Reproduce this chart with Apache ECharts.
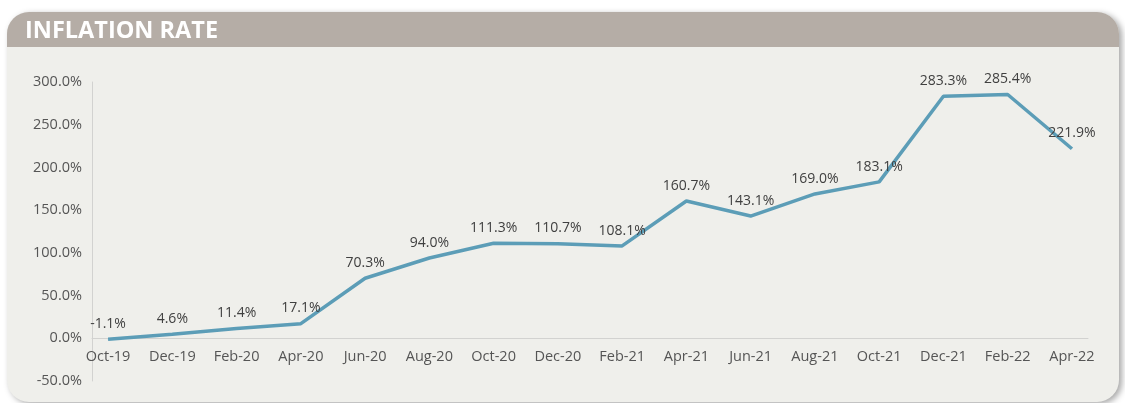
<!DOCTYPE html>
<html>
<head>
<meta charset="utf-8">
<script src="https://cdn.jsdelivr.net/npm/echarts@6/dist/echarts.min.js"></script>
<style>
html,body{margin:0;padding:0;background:#fff;}
#c{width:1125px;height:403px;}
</style>
</head>
<body>
<div id="c"></div>
<script>
const title = 'INFLATION RATE';
const categories = ['Oct-19','Dec-19','Feb-20','Apr-20','Jun-20','Aug-20','Oct-20','Dec-20','Feb-21','Apr-21','Jun-21','Aug-21','Oct-21','Dec-21','Feb-22','Apr-22'];
const inflation = [-1.1, 4.6, 11.4, 17.1, 70.3, 94.0, 111.3, 110.7, 108.1, 160.7, 143.1, 169.0, 183.1, 283.3, 285.4, 221.9];
const yTicks = [-50, 0, 50, 100, 150, 200, 250, 300];

const W = 1125, H = 403;
const gridTop = 82, gridBottom = 22;
const yMin = yTicks[0], yMax = yTicks[yTicks.length - 1];
const gridH = H - gridTop - gridBottom;
const zeroOffset = -gridH * (0 - yMin) / (yMax - yMin);

const chart = echarts.init(document.getElementById('c'), null, {renderer: 'canvas'});
const font = '"Open Sans", "Liberation Sans", sans-serif';
const idx = categories.map((_, i) => i);
chart.setOption({
  backgroundColor: '#ffffff',
  animation: false,
  graphic: [
    {type: 'rect', z: -10, shape: {x: 7, y: 12, width: 1112, height: 390, r: [22, 22, 22, 22]},
     style: {fill: '#efefeb', shadowBlur: 6, shadowOffsetX: 3, shadowOffsetY: 2, shadowColor: 'rgba(0,0,0,0.35)'}},
    {type: 'rect', z: -9, shape: {x: 7, y: 12, width: 1112, height: 35, r: [22, 22, 0, 0]},
     style: {fill: '#b5ada6'}},
    {type: 'text', z: -8, x: 25, y: 31,
     style: {text: title, fill: '#ffffff', font: 'bold 23.5px ' + font, textVerticalAlign: 'middle', verticalAlign: 'middle'}}
  ],
  grid: {left: 92, right: 37, top: gridTop, bottom: gridBottom, containLabel: false},
  xAxis: {
    type: 'value', min: -0.25, max: 15.25,
    position: 'bottom', offset: zeroOffset,
    axisLine: {onZero: false, lineStyle: {color: '#d2d2d0', width: 1}},
    axisTick: {show: false},
    splitLine: {show: false},
    axisLabel: {
      customValues: idx,
      formatter: v => categories[Math.round(v)],
      color: '#555555', fontSize: 14.5, fontFamily: font, margin: 11
    }
  },
  yAxis: {
    type: 'value', min: yMin, max: yMax, interval: 50,
    axisLine: {show: true, onZero: false, lineStyle: {color: '#d2d2d0', width: 1}},
    axisTick: {show: false},
    splitLine: {show: false},
    axisLabel: {
      customValues: yTicks,
      formatter: v => v.toFixed(1) + '%',
      color: '#555555', fontSize: 14.5, fontFamily: font, margin: 10
    }
  },
  series: [{
    type: 'line',
    data: inflation.map((v, i) => [i, v]),
    symbol: 'circle', symbolSize: 0.5, showSymbol: true, showAllSymbol: true,
    itemStyle: {color: '#5c9db7'},
    lineStyle: {color: '#5c9db7', width: 3.5},
    label: {
      show: true, position: 'top', distance: 8,
      formatter: p => p.value[1].toFixed(1) + '%',
      color: '#404040', fontSize: 14, fontFamily: font
    },
    labelLayout: {hideOverlap: false}
  }]
});
</script>
</body>
</html>
